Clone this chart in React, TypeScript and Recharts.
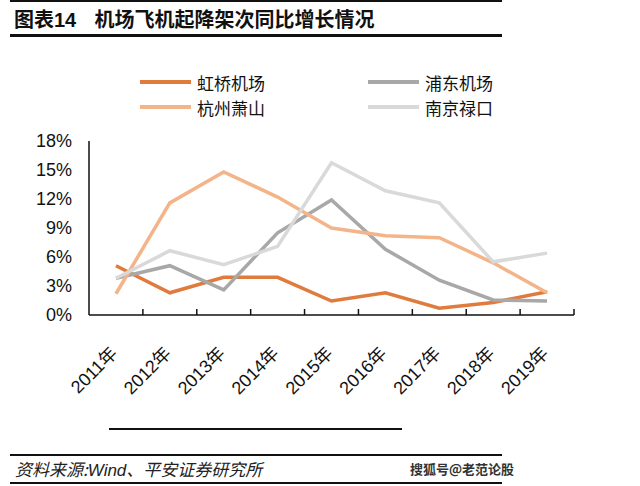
import { Line, LineChart, XAxis, YAxis } from "recharts";

const years = [
  "2011年",
  "2012年",
  "2013年",
  "2014年",
  "2015年",
  "2016年",
  "2017年",
  "2018年",
  "2019年",
];

const hongqiao = [5.1, 2.3, 3.9, 3.9, 1.45, 2.3, 0.7, 1.3, 2.4];
const pudong = [3.8, 5.1, 2.6, 8.5, 11.9, 6.8, 3.6, 1.55, 1.45];
const xiaoshan = [2.2, 11.6, 14.8, 12.2, 9.0, 8.2, 8.0, 5.4, 2.3];
const lukou = [3.8, 6.65, 5.2, 7.1, 15.75, 12.85, 11.6, 5.5, 6.4];

const yTicks = [0, 3, 6, 9, 12, 15, 18];

const series = [
  { key: "hongqiao", name: "虹桥机场", color: "#E07B3E" },
  { key: "pudong", name: "浦东机场", color: "#A8A8A8" },
  { key: "xiaoshan", name: "杭州萧山", color: "#F4B48A" },
  { key: "lukou", name: "南京禄口", color: "#D9D9D9" },
];

// legend order as in the picture: two columns
const legendRows = [
  ["hongqiao", "pudong"],
  ["xiaoshan", "lukou"],
];

const data = years.map((year, i) => ({
  idx: i,
  year,
  hongqiao: hongqiao[i],
  pudong: pudong[i],
  xiaoshan: xiaoshan[i],
  lukou: lukou[i],
}));

const labelIdx = years.map((_, i) => i);
const boundaryIdx = years.map((_, i) => i + 0.5);

const latin = '"Liberation Sans", Arial, "Noto Sans CJK SC", sans-serif';
const cjk = '"Noto Sans CJK SC", "Liberation Sans", sans-serif';

function YearTick(props: any) {
  const { x, y, payload } = props;
  return (
    <g transform={`translate(${x - 2},${y + 27})`}>
      <text
        transform="rotate(-45)"
        textAnchor="end"
        dy="0.35em"
        fill="#111"
        fontSize={18}
        fontFamily={latin}
      >
        {years[payload.value]}
      </text>
    </g>
  );
}

function Legend() {
  const byKey = Object.fromEntries(series.map((s) => [s.key, s]));
  return (
    <>
      {legendRows.map((row, r) =>
        row.map((key, c) => {
          const s = byKey[key];
          return (
            <div
              key={key}
              style={{
                position: "absolute",
                left: c === 0 ? 140 : 368,
                top: 71 + r * 25,
                height: 22,
                display: "flex",
                alignItems: "center",
                fontFamily: cjk,
                fontSize: 17,
                color: "#111",
              }}
            >
              <span
                style={{
                  display: "inline-block",
                  width: 51,
                  height: 4,
                  background: s.color,
                  marginRight: 6,
                }}
              />
              {s.name}
            </div>
          );
        })
      )}
    </>
  );
}

export default function App() {
  return (
    <div
      style={{
        position: "absolute",
        left: 0,
        top: 0,
        width: 640,
        height: 486,
        background: "#fff",
        overflow: "hidden",
      }}
    >
      <div style={{ position: "absolute", left: 10, top: 0, width: 492, height: 2, background: "#111" }} />
      <div
        style={{
          position: "absolute",
          left: 14,
          top: 5,
          fontFamily: cjk,
          fontWeight: 700,
          fontSize: 20,
          color: "#111",
          whiteSpace: "pre",
          lineHeight: "28px",
        }}
      >
        <span>图表</span>
        <span style={{ fontFamily: latin }}>14</span>
        <span>{"    机场飞机起降架次同比增长情况"}</span>
      </div>
      <div style={{ position: "absolute", left: 10, top: 34, width: 492, height: 3, background: "#111" }} />

      <Legend />

      <div style={{ position: "absolute", left: 0, top: 0 }}>
        <LineChart
          width={640}
          height={486}
          data={data}
          margin={{ top: 141, right: 66, left: 29, bottom: 91 }}
        >
          <XAxis
            xAxisId="x"
            dataKey="idx"
            type="number"
            domain={[-0.5, 8.5]}
            ticks={labelIdx}
            interval={0}
            height={80}
            axisLine={{ stroke: "#111", strokeWidth: 1.5 }}
            tickLine={false}
            tick={<YearTick />}
          />
          <XAxis
            xAxisId="xm"
            dataKey="idx"
            type="number"
            domain={[-0.5, 8.5]}
            ticks={boundaryIdx}
            interval={0}
            mirror
            axisLine={false}
            tickSize={6}
            tickLine={{ stroke: "#111", strokeWidth: 1.5 }}
            tick={{ fill: "transparent" }}
            tickFormatter={() => ""}
          />
          <YAxis
            yAxisId="y"
            domain={[0, 18]}
            ticks={yTicks}
            interval={0}
            width={60}
            axisLine={{ stroke: "#111", strokeWidth: 1.5 }}
            tickLine={false}
            tickSize={0}
            tickMargin={17}
            tick={{ fill: "#111", fontSize: 18, fontFamily: latin }}
            tickFormatter={(v: number) => `${v}%`}
          />
          <YAxis
            yAxisId="ym"
            domain={[0, 18]}
            ticks={yTicks}
            interval={0}
            mirror
            axisLine={false}
            tickSize={5}
            tickLine={{ stroke: "#111", strokeWidth: 1.5 }}
            tick={{ fill: "transparent" }}
            tickFormatter={() => ""}
          />
          {series.map((s) => (
            <Line
              key={s.key}
              xAxisId="x"
              yAxisId="y"
              type="linear"
              dataKey={s.key}
              name={s.name}
              stroke={s.color}
              strokeWidth={3.5}
              dot={false}
              isAnimationActive={false}
            />
          ))}
        </LineChart>
      </div>

      <div style={{ position: "absolute", left: 109, top: 428, width: 293, height: 2, background: "#111" }} />

      <div style={{ position: "absolute", left: 10, top: 454, width: 492, height: 2, background: "#111" }} />
      <div
        style={{
          position: "absolute",
          left: 15,
          top: 457,
          fontFamily: cjk,
          fontStyle: "italic",
          fontSize: 17,
          color: "#222",
          lineHeight: "24px",
        }}
      >
        资料来源:<span style={{ fontFamily: latin }}>Wind</span>、平安证券研究所
      </div>
      <div
        style={{
          position: "absolute",
          left: 410,
          top: 460,
          fontFamily: cjk,
          fontWeight: 700,
          fontSize: 13,
          color: "#333",
          lineHeight: "18px",
        }}
      >
        搜狐号@老范论股
      </div>
      <div style={{ position: "absolute", left: 10, top: 482, width: 492, height: 2, background: "#111" }} />
    </div>
  );
}
